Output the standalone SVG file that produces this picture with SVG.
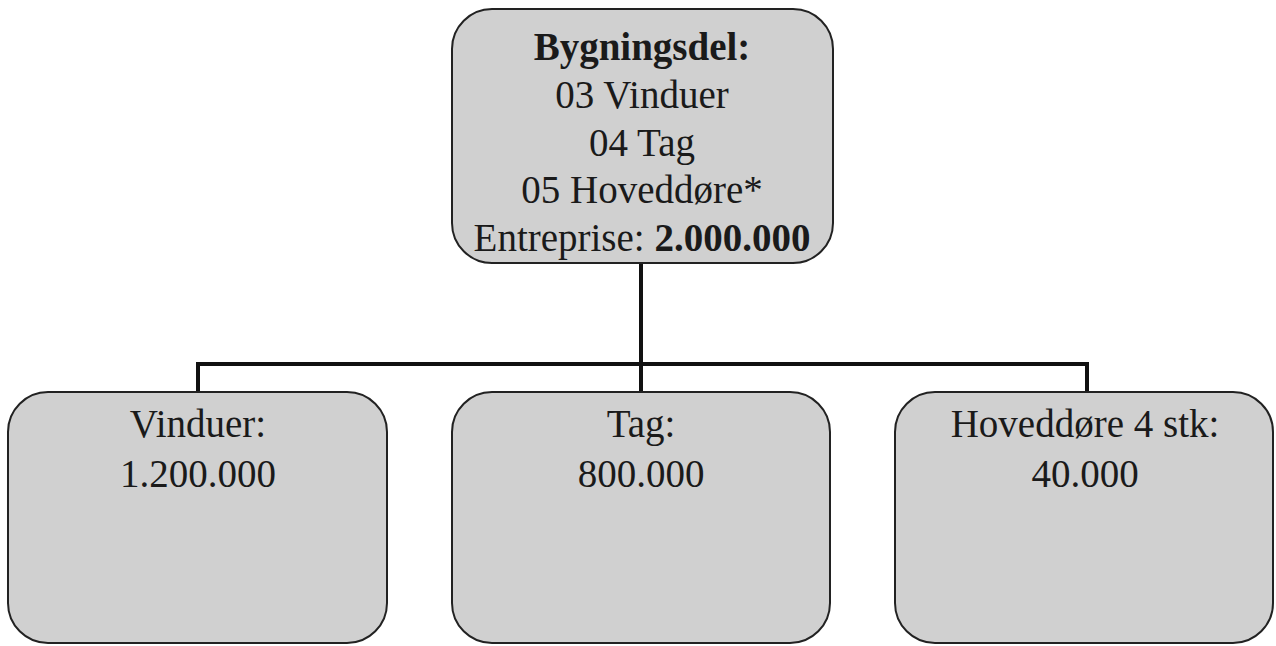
<svg xmlns="http://www.w3.org/2000/svg" width="1276" height="646" viewBox="0 0 1276 646">
  <style>
    .box { fill: #d0d0d0; stroke: #222; stroke-width: 2; }
    .lbl { font-family: "Liberation Serif", "Times New Roman", serif; font-size: 39px; fill: #1a1a1a; text-anchor: middle; }
    .b { font-weight: bold; }
    .link { fill: none; stroke: #111; stroke-width: 4; }
  </style>
  <rect width="1276" height="646" fill="#ffffff"/>

  <!-- connectors: trunk from the parent, bus bar, drops to the three children -->
  <g id="connectors">
    <path class="link" d="M641 264 V364 M198 364 H1087 M198 362 V392 M641 364 V392 M1087 362 V392"/>
  </g>

  <g id="node-bygningsdel">
    <rect class="box" x="452" y="9" width="381" height="254" rx="40" ry="40"/>
    <text class="lbl b" x="642" y="60">Bygningsdel:</text>
    <text class="lbl" x="642" y="108">03 Vinduer</text>
    <text class="lbl" x="642" y="156">04 Tag</text>
    <text class="lbl" x="642" y="203">05 Hoveddøre*</text>
    <text class="lbl" x="642" y="251">Entreprise: <tspan class="b">2.000.000</tspan></text>
  </g>

  <g id="node-vinduer">
    <rect class="box" x="8" y="392" width="379" height="251" rx="40" ry="40"/>
    <text class="lbl" x="198" y="437">Vinduer:</text>
    <text class="lbl" x="198" y="487">1.200.000</text>
  </g>

  <g id="node-tag">
    <rect class="box" x="452" y="392" width="378" height="251" rx="40" ry="40"/>
    <text class="lbl" x="641" y="437">Tag:</text>
    <text class="lbl" x="641" y="487">800.000</text>
  </g>

  <g id="node-hoveddoere">
    <rect class="box" x="895" y="392" width="378" height="251" rx="40" ry="40"/>
    <text class="lbl" x="1085" y="437">Hoveddøre 4 stk:</text>
    <text class="lbl" x="1085" y="487">40.000</text>
  </g>
</svg>
